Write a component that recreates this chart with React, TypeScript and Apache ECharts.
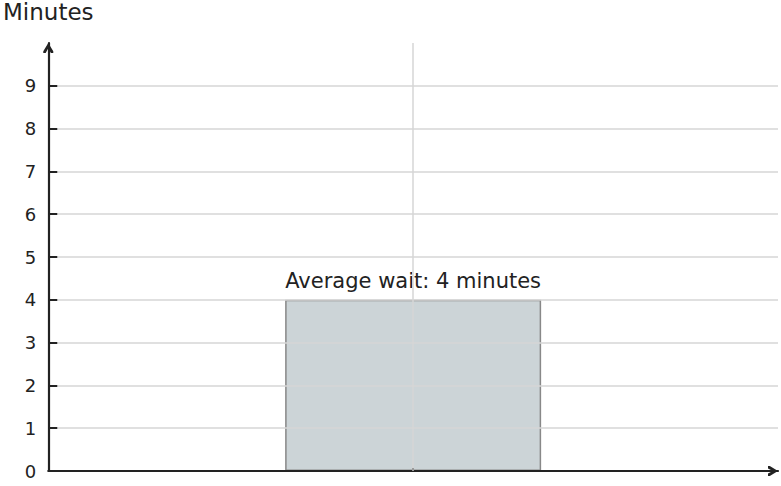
import { useEffect, useRef } from 'react';
import * as echarts from 'echarts';

const positions = [1];
const waitMinutes = [4];
const yTickValues = [1, 2, 3, 4, 5, 6, 7, 8, 9];
const yLabelValues = [0, 1, 2, 3, 4, 5, 6, 7, 8, 9];
const xTickValues = [1];

// open chevron, pointing up; echarts rotates it along each axis
const chevron = 'path://M0,8.2 L5,0 L10,8.2 L10,10 L7.6,10 L5,5.2 L2.4,10 L0,10 Z';

export default function App() {
  const chartRef = useRef<HTMLDivElement>(null);

  useEffect(() => {
    if (!chartRef.current) return;
    const chart = echarts.init(chartRef.current, undefined, { renderer: 'svg' });

    const option: echarts.EChartsOption = {
      animation: false,
      textStyle: { fontFamily: 'DejaVu Sans' },
      grid: { left: 48, right: 3, top: 43, bottom: 15 },
      xAxis: {
        type: 'value',
        min: 0,
        max: 2,
        interval: 1,
        z: 5,
        axisLine: {
          show: true,
          lineStyle: { color: '#222', width: 2.2 },
          symbol: ['none', chevron],
          symbolSize: [12, 10],
          symbolOffset: [0, -5],
        },
        axisTick: {
          show: true,
          inside: true,
          length: 3,
          customValues: xTickValues,
          lineStyle: { color: '#999', width: 2 },
        },
        axisLabel: { show: false },
        splitLine: { show: true, lineStyle: { color: '#d6d6d6', width: 1.5 } },
      },
      yAxis: {
        type: 'value',
        min: 0,
        max: 10,
        interval: 1,
        z: 5,
        name: 'Minutes',
        nameLocation: 'end',
        nameGap: 20,
        nameTextStyle: { color: '#222', fontSize: 23, fontFamily: 'DejaVu Sans' },
        axisLine: {
          show: true,
          lineStyle: { color: '#222', width: 2.2 },
          symbol: ['none', chevron],
          symbolSize: [11, 10],
          symbolOffset: [0, -5],
        },
        axisTick: {
          show: true,
          inside: true,
          length: 9,
          customValues: yTickValues,
          lineStyle: { color: '#222', width: 2 },
        },
        axisLabel: {
          color: '#222',
          fontSize: 18,
          margin: 12,
          customValues: yLabelValues,
        },
        splitLine: { show: true, lineStyle: { color: '#d6d6d6', width: 1.5 } },
      },
      series: [
        {
          type: 'bar',
          barWidth: 256,
          data: positions.map((p, i) => [p, waitMinutes[i]]),
          itemStyle: {
            color: 'rgba(193, 202, 206, 0.82)',
            borderColor: '#888',
            borderWidth: 1.5,
          },
          label: {
            show: true,
            position: 'top',
            distance: 8,
            color: '#222',
            fontSize: 21,
            formatter: (p: any) => `Average wait: ${p.value[1]} minutes`,
          },
        },
      ],
    };

    chart.setOption(option);
    return () => {
      chart.dispose();
    };
  }, []);

  return <div ref={chartRef} style={{ width: 781, height: 486, position: 'absolute', left: 0, top: 0 }} />;
}
